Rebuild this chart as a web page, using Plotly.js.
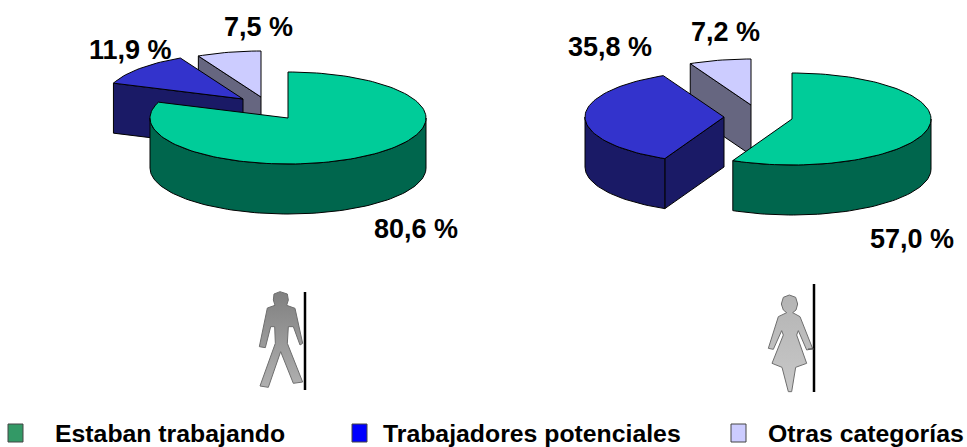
<!DOCTYPE html>
<html><head><meta charset="utf-8">
<script src="https://cdn.plot.ly/plotly-3.0.1.min.js"></script>
<style>html,body{margin:0;padding:0;background:#fff}#c{width:967px;height:447px}</style>
</head><body><div id="c"></div>
<script>
const categories = ["Estaban trabajando","Trabajadores potenciales","Otras categorías"];
const hombres = [80.6, 11.9, 7.5];
const mujeres = [57.0, 35.8, 7.2];
const labelsHombres = ["80,6 %","11,9 %","7,5 %"];
const labelsMujeres = ["57,0 %","35,8 %","7,2 %"];

const topColors = ["#00CC99","#3333CC","#CCCCFF"];
const wallColors = ["#00664D","#1A1A66","#666680"];
const legendColors = ["#339966","#0000FF","#CCCCFF"];

// geometry of the two fake-3D pies, in page pixels (axes are mapped 1:1)
const RY = 46, DEPTH = 50;
const pieHombres = {rx:138, apex:[[288,118],[243,99],[261,97]], labels:[[416,229],[130,50],[258,27]]};
const pieMujeres = {rx:139, apex:[[792,119],[724,117],[751,105]], labels:[[912,239],[610,47],[725,32]]};

const traces = [], annotations = [];
const poly = (pts, fill, name) => traces.push({
  type:"scatter", mode:"lines", x:pts.map(p=>p[0]), y:pts.map(p=>p[1]),
  fill:"toself", fillcolor:fill, line:{color:"#000",width:1}, name, hoverinfo:"name", showlegend:false
});

function arc(c, rx, a0, a1, dy){
  const pts=[], n=Math.max(2,Math.ceil((a1-a0)/2));
  for(let i=0;i<=n;i++){
    const a=(a0+(a1-a0)*i/n)*Math.PI/180;
    pts.push([c[0]+rx*Math.sin(a), c[1]-RY*Math.cos(a)+dy]);
  }
  return pts;
}
function drawPie(values, geo, labels){
  const total = values.reduce((a,b)=>a+b,0), rx = geo.rx;
  let acc = 0;
  const wedges = values.map((v,i)=>{const a0=acc/total*360; acc+=v; return {i,a0,a1:acc/total*360,c:geo.apex[i]};});
  // painter's order: the back wedges first, the main wedge last
  [2,1,0].forEach(k=>{
    const {i,a0,a1,c} = wedges[k], nm = categories[i];
    if(Math.sin(a0*Math.PI/180) < -1e-6){
      const o = arc(c,rx,a0,a0,0)[0];
      poly([c,o,[o[0],o[1]+DEPTH],[c[0],c[1]+DEPTH],c], wallColors[i], nm);
    }
    const s=Math.max(a0,90), e=Math.min(a1,270);
    if(e>s){
      const up=arc(c,rx,s,e,0), dn=arc(c,rx,s,e,DEPTH).reverse();
      poly(up.concat(dn,[up[0]]), wallColors[i], nm);
    }
    poly([c].concat(arc(c,rx,a0,a1,0),[c]), topColors[i], nm);
    annotations.push({x:geo.labels[i][0],y:geo.labels[i][1],text:labels[i],showarrow:false,xref:"x",yref:"y",
      font:{family:"Liberation Sans, Arial, sans-serif",size:27,color:"#000",weight:700}});
  });
}
drawPie(hombres, pieHombres, labelsHombres);
drawPie(mujeres, pieMujeres, labelsMujeres);

// pictograms
const firstIcon = traces.length;
function icon(ox,oy,pts,a,b,name){
  traces.push({type:"scatter",mode:"lines",x:pts.map(p=>ox+p[0]/3),y:pts.map(p=>oy+p[1]/3),fill:"toself",
    fillgradient:{type:"vertical",colorscale:[[0,a],[1,b]]},line:{color:"#6e6e6e",width:1},hoverinfo:"skip",showlegend:false,name});
}
const man=[[120,35],[102,42],[100,60],[105,76],[82,84],[75,120],[58,200],[76,203],[92,140],[104,140],[106,190],[60,318],[85,322],[122,215],[160,310],[188,306],[142,190],[145,140],[160,140],[180,195],[188,190],[165,85],[140,76],[145,60],[142,42],[120,35]];
const woman=[[118,45],[100,52],[94,72],[100,90],[110,98],[85,110],[55,205],[70,208],[95,152],[100,165],[66,250],[96,262],[115,335],[125,335],[137,262],[170,250],[140,165],[145,152],[170,210],[188,206],[150,110],[128,98],[138,90],[143,72],[137,52],[118,45]];
icon(240,280,man,"#b0b0b0","#808080","Hombres");
icon(750,280,woman,"#c8c8c8","#b4b4b4","Mujeres");
const shapes=[
 {type:"line",xref:"x",yref:"y",x0:305,x1:305,y0:292,y1:390,line:{color:"#000",width:2.5}},
 {type:"line",xref:"x",yref:"y",x0:814,x1:814,y0:284,y1:392,line:{color:"#000",width:2.5}},
 {type:"line",xref:"x",yref:"y",x0:808,x1:814,y0:349,y1:349,line:{color:"#555",width:1}}
];

// legend
const legX=[8,352,731], legTextX=[55,383,768], legW=15, legH=18, legTop=424, legY=433;
legX.forEach((x,i)=>shapes.push({type:"rect",xref:"x",yref:"y",x0:x,x1:x+legW,y0:legTop,y1:legTop+legH,
  fillcolor:legendColors[i],line:{color:"#444",width:1}}));
categories.forEach((t,i)=>annotations.push({x:legTextX[i],y:legY,text:t,xanchor:"left",showarrow:false,xref:"x",yref:"y",xshift:-2,
  font:{family:"Liberation Sans, Arial, sans-serif",size:24.8,color:"#000",weight:700}}));

Plotly.newPlot("c",traces,{
  width:967,height:447,margin:{l:0,r:0,t:0,b:0},paper_bgcolor:"#fff",plot_bgcolor:"#fff",showlegend:false,
  xaxis:{range:[0,967],visible:false,fixedrange:true},
  yaxis:{range:[447,0],visible:false,fixedrange:true},
  annotations,shapes
},{displayModeBar:false}).then(gd=>{
  const groups = gd.querySelectorAll(".scatterlayer .trace");
  [firstIcon, firstIcon+1].forEach(i=>{ if(groups[i]) groups[i].style.filter="blur(0.7px)"; });
});
</script></body></html>
